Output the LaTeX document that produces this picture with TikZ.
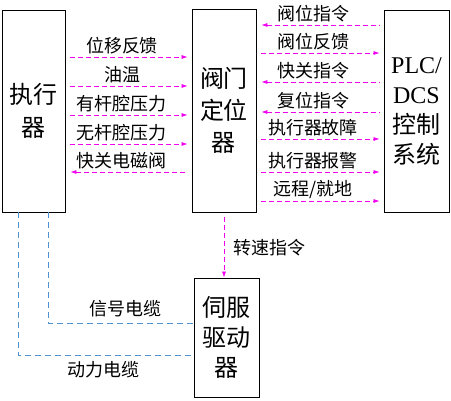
\documentclass[tikz,border=0pt]{standalone}
\usepackage{fontspec}
\setmainfont{Liberation Serif}
\newfontfamily\cjk{Noto Sans CJK SC}
\usepackage{tikz}
\usetikzlibrary{arrows.meta, positioning, calc}
\definecolor{sig}{RGB}{240,0,240}
\definecolor{cable}{RGB}{80,145,210}

\begin{document}
\begin{tikzpicture}[
      x=1pt, y=-1pt,
      box/.style={draw, line width=0.8pt, inner sep=0pt, align=center},
      boxfont/.style={font=\cjk\fontsize{24}{#1}\selectfont},
      sigline/.style={draw=sig, line width=0.7pt, dash pattern=on 5pt off 3pt,
        >={Latex[length=6pt, width=4pt]}, shorten <=5pt, shorten >=4pt},
      cabline/.style={draw=cable, line width=0.8pt, dash pattern=on 6pt off 4pt},
      lab/.style={font=\cjk\fontsize{18}{18}\selectfont, inner sep=0pt},
    ]
    \useasboundingbox (0,0) rectangle (451,400);
    % boxes
    \node[box, boxfont=33, minimum width=63pt, minimum height=202pt] (exec) at (33.5,111) {执行\\器};
    \node[box, boxfont=32, minimum width=64pt, minimum height=203pt] (pos) at (224,110.5) {阀门\\定位\\器};
    \node[box, font=\fontsize{24}{30}\selectfont, minimum width=65pt, minimum height=202pt] (plc)
      at (416.5,111) {PLC/\\DCS\\\cjk 控制\\\cjk 系统};
    \node[box, boxfont=30, minimum width=65pt, minimum height=119pt] (servo) at (226.5,337.5) {伺服\\驱动\\器};
    % executor <-> positioner signals
    \foreach \y/\d/\t [count=\i] in {57/->/位移反馈, 86/->/油温, 115/->/有杆腔压力,
        144/->/无杆腔压力, 172/<-/快关电磁阀} {
      \draw[sigline, \d] (exec.east |- 0,\y) -- (pos.west |- 0,\y);
      \node[lab] (la\i) at (122,\y-11) {\t};
    }
    % positioner <-> PLC/DCS signals
    \foreach \y/\d/\t [count=\i] in {25/<-/阀位指令, 53/->/阀位反馈, 82/<-/快关指令,
        112/<-/复位指令, 139/->/执行器故障, 172/->/执行器报警, 201/->/{远程/就地}} {
      \draw[sigline, \d] (pos.east |- 0,\y) -- (plc.west |- 0,\y);
      \node[lab] (lb\i) at (313,\y-11) {\t};
    }
    % speed command
    \draw[sigline, ->, shorten >=0pt] (pos.south) -- (pos.south |- servo.north);
    \node[lab, anchor=west] (spd) at (233,248) {转速指令};
    % cables
    \draw[cabline] ([xshift=14.5pt]exec.south) |- (servo.west |- 0,323);
    \draw[cabline] ([xshift=-15.5pt]exec.south) |- (servo.west |- 0,355);
    \node[lab] (sigc) at (125,309) {信号电缆};
    \node[lab] (powc) at (103,370) {动力电缆};
  \end{tikzpicture}
\end{document}
